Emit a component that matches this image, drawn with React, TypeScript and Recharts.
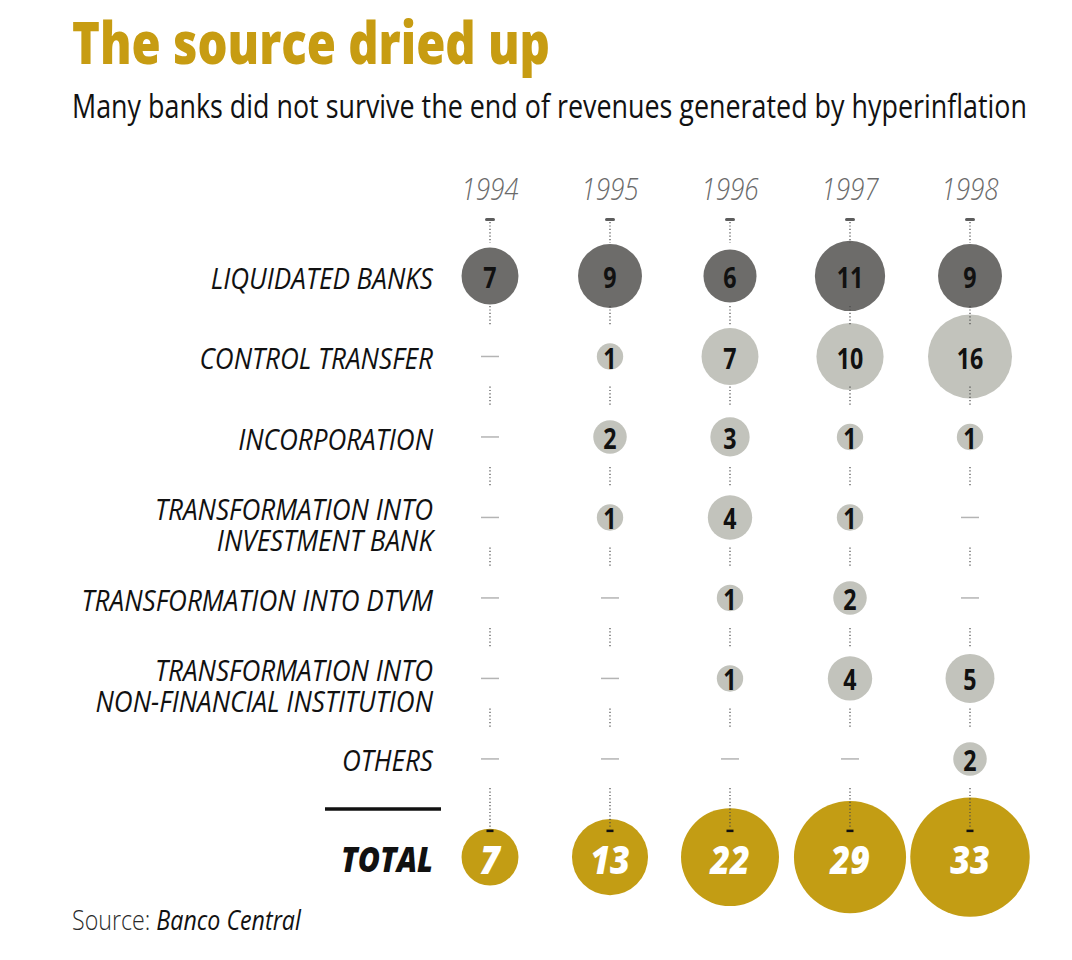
import React from 'react';
import { ScatterChart, Scatter, XAxis, YAxis, ZAxis } from 'recharts';

const years = [1994, 1995, 1996, 1997, 1998];

const rowLabels = [
  ['LIQUIDATED BANKS'],
  ['CONTROL TRANSFER'],
  ['INCORPORATION'],
  ['TRANSFORMATION INTO', 'INVESTMENT BANK'],
  ['TRANSFORMATION INTO DTVM'],
  ['TRANSFORMATION INTO', 'NON-FINANCIAL INSTITUTION'],
  ['OTHERS'],
];

const liquidated = [7, 9, 6, 11, 9];
const controlTransfer = [0, 1, 7, 10, 16];
const incorporation = [0, 2, 3, 1, 1];
const investmentBank = [0, 1, 4, 1, 0];
const dtvm = [0, 0, 1, 2, 0];
const nonFinancial = [0, 0, 1, 4, 5];
const others = [0, 0, 0, 0, 2];
const totals = [7, 13, 22, 29, 33];

const totalLabel = 'TOTAL';
const title = 'The source dried up';
const subtitle = 'Many banks did not survive the end of revenues generated by hyperinflation';

const rowSeries = [liquidated, controlTransfer, incorporation, investmentBank, dtvm, nonFinancial, others];

// layout
const W = 1072;
const H = 960;
const TOTAL_ROW = 7.22;
const LAST_ROW = rowSeries.length - 1;
const FONT = '"Open Sans", "Noto Sans", sans-serif';
const DARK = '#6d6c6a';
const LIGHT = '#c2c3bc';
const GOLD = '#c39d14';
const DOTS = '#4a4a4a';
const LABEL_SX = 0.9;
const SUB_SX = 0.78;

// bubble area grows linearly with the number of banks
const R2_BASE = 68;
const R2_PER_BANK = 106;
const zMax = Math.max(...totals);
const areaRange: [number, number] = [Math.PI * R2_BASE, Math.PI * (R2_BASE + R2_PER_BANK * zMax)];

type Cell = { year: number; row: number; value: number; total?: boolean };

const rowPoints: Cell[][] = rowSeries.map((vals, r) =>
  vals.map((v, i) => ({ year: years[i], row: r, value: v }))
);
const totalPoints: Cell[] = totals.map((v, i) => ({ year: years[i], row: TOTAL_ROW, value: v, total: true }));
const allPoints: Cell[] = [...rowPoints.flat(), ...totalPoints];

const makeBubble = (fill: string) => (props: any) => {
  const { cx, cy, width, payload } = props;
  if (payload.value === 0) {
    return <line x1={cx - 9} x2={cx + 9} y1={cy} y2={cy} stroke="#b4b4b4" strokeWidth={1.5} />;
  }
  const r = width / 2;
  const isTotal = !!payload.total;
  return (
    <g>
      <circle cx={cx} cy={cy} r={r} fill={fill} />
      <text
        transform={`translate(${cx},${cy + (isTotal ? 2 : 1)}) scale(${isTotal ? 0.9 : 0.8},1)`}
        textAnchor="middle"
        dominantBaseline="central"
        fontFamily={FONT}
        fontWeight={isTotal ? 800 : 700}
        fontStyle={isTotal ? 'italic' : 'normal'}
        fontSize={isTotal ? 38 : 29}
        fill={isTotal ? '#ffffff' : '#111111'}
      >
        {payload.value}
      </text>
    </g>
  );
};

// dotted guides between rows, drawn on top of the bubbles
const Connector = (props: any) => {
  const { cx, cy, payload } = props;
  const dotted = { stroke: DOTS, strokeWidth: 1.2, strokeDasharray: '1.2 2.2' };
  if (payload.total) {
    return (
      <g>
        <line x1={cx} x2={cx} y1={cy - 69} y2={cy - 29} {...dotted} />
        <rect x={cx - 3.5} y={cy - 27.5} width={7} height={2.5} fill="#111" />
      </g>
    );
  }
  return (
    <g>
      {payload.row === 0 && (
        <>
          <rect x={cx - 5} y={cy - 58} width={10} height={3} rx={1.5} fill="#5c5c5c" />
          <line x1={cx} x2={cx} y1={cy - 54} y2={cy - 33} {...dotted} />
        </>
      )}
      {payload.row < LAST_ROW && <line x1={cx} x2={cx} y1={cy + 30} y2={cy + 50} {...dotted} />}
    </g>
  );
};

const YearTick = (props: any) => {
  const { x, y, payload } = props;
  return (
    <text
      transform={`translate(${x},${y - 8}) scale(0.84,1)`}
      textAnchor="middle"
      dominantBaseline="central"
      fontFamily={FONT}
      fontWeight={300}
      fontStyle="italic"
      fontSize={31}
      fill="#6a6a6a"
    >
      {payload.value}
    </text>
  );
};

const RowTick = (props: any) => {
  const { x, y, payload } = props;
  const right = x + 3;
  if (payload.value === TOTAL_ROW) {
    return (
      <g>
        <line x1={x - 105} x2={x + 11} y1={y - 48} y2={y - 48} stroke="#111" strokeWidth={3.5} />
        <text
          transform={`translate(${right},${y + 1}) scale(0.84,1)`}
          textAnchor="end"
          dominantBaseline="central"
          fontFamily={FONT}
          fontWeight={800}
          fontStyle="italic"
          fontSize={36}
          fill="#111"
        >
          {totalLabel}
        </text>
      </g>
    );
  }
  const lines = rowLabels[payload.value] || [];
  // two-line labels sit with the first line close to the row centre
  const firstY = lines.length === 1 ? 1 : -9;
  return (
    <text
      transform={`translate(${right},${y + firstY}) scale(${LABEL_SX},1)`}
      textAnchor="end"
      dominantBaseline="central"
      fontFamily={FONT}
      fontStyle="italic"
      fontSize={29}
      fill="#111"
    >
      {lines.map((line, i) => (
        <tspan key={i} x={0} dy={i === 0 ? 0 : 31}>
          {line}
        </tspan>
      ))}
    </text>
  );
};

export default function App() {
  return (
    <div style={{ position: 'relative', width: W, height: H, margin: -8, background: '#fff' }}>
      <div style={{ position: 'absolute', left: 0, top: 0 }}>
        <ScatterChart width={W} height={H} margin={{ top: 165.5, right: 42, bottom: 24, left: 0 }}>
          <XAxis
            type="number"
            dataKey="year"
            orientation="top"
            domain={[1993.5, 1998.5]}
            ticks={years}
            interval={0}
            height={30}
            axisLine={false}
            tickLine={false}
            tickSize={0}
            tickMargin={0}
            tick={<YearTick />}
          />
          <YAxis
            type="number"
            dataKey="row"
            reversed
            domain={[-1, 8.2]}
            ticks={[...rowLabels.map((_, i) => i), TOTAL_ROW]}
            interval={0}
            width={430}
            axisLine={false}
            tickLine={false}
            tickSize={0}
            tickMargin={0}
            tick={<RowTick />}
          />
          <ZAxis type="number" dataKey="value" domain={[0, zMax]} range={areaRange} />
          {rowPoints.map((pts, r) => (
            <Scatter
              key={r}
              data={pts}
              isAnimationActive={false}
              shape={makeBubble(r === 0 ? DARK : LIGHT)}
            />
          ))}
          <Scatter data={totalPoints} isAnimationActive={false} shape={makeBubble(GOLD)} />
          <Scatter data={allPoints} isAnimationActive={false} shape={<Connector />} />
        </ScatterChart>
      </div>
      <svg width={W} height={H} style={{ position: 'absolute', left: 0, top: 0, pointerEvents: 'none' }}>
        <text
          x={72}
          y={64}
          textLength={478}
          lengthAdjust="spacingAndGlyphs"
          fontFamily={FONT}
          fontWeight={800}
          fontSize={59}
          fill="#c79c12"
        >
          {title}
        </text>
        <text
          transform={`translate(72,118) scale(${SUB_SX},1)`}
          textLength={955 / SUB_SX}
          lengthAdjust="spacingAndGlyphs"
          fontFamily={FONT}
          fontSize={33}
          fill="#111"
        >
          {subtitle}
        </text>
        <text transform="translate(72,930) scale(0.86,1)" fontFamily={FONT} fontSize={27} fill="#2a2a2a">
          <tspan fontWeight={300}>Source: </tspan>
          <tspan fontStyle="italic" fill="#111">Banco Central</tspan>
        </text>
      </svg>
    </div>
  );
}
